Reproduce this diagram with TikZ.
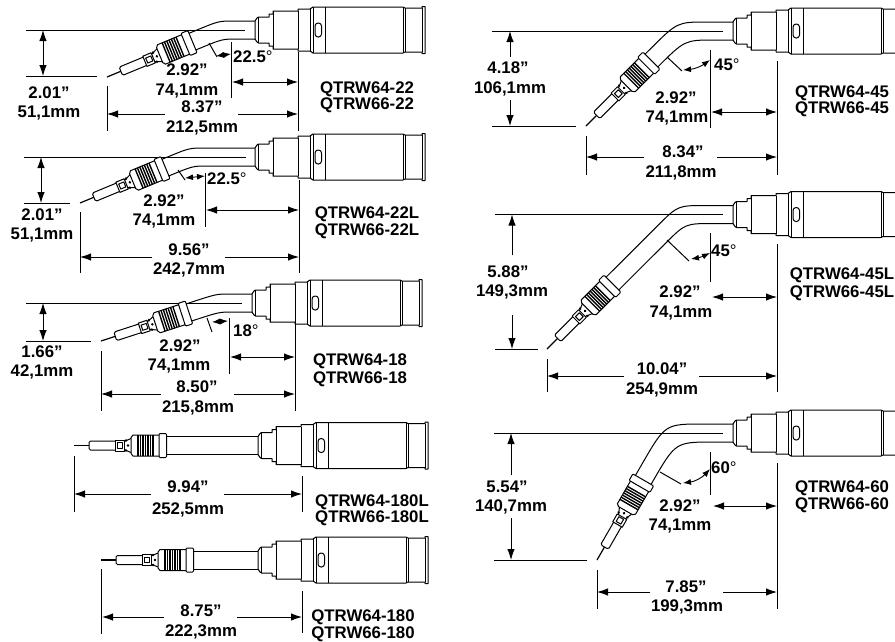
\documentclass[tikz,border=0pt]{standalone}
\usepackage{fontspec}
\setmainfont{Liberation Sans}
\usetikzlibrary{arrows.meta,calc}
\newcommand{\degsign}{{\mdseries °}}
\tikzset{
  gunline/.style={line width=1pt,line join=round},
  extline/.style={line width=1pt},
  dimline/.style={line width=0.9pt,-{Latex[length=11pt,width=7.5pt]}},
  angline/.style={line width=0.9pt,{Latex[length=8pt,width=6pt]}-{Latex[length=8pt,width=6pt]}},
  gunbody/.pic={
    \draw[gunline,fill=white] (0,-9) -- (2,-12) -- (3.5,-13) -- (14,-13) -- (14,-16) -- (18,-16) -- (18,-19)
      -- (43,-19) -- (43,-21) -- (55,-21) -- (58,-23) -- (148,-23) -- (150,-22) -- (167,-22) -- (167,-23.5)
      -- (170,-23.5) -- (170,23.5) -- (167,23.5) -- (167,22) -- (150,22) -- (148,23) -- (58,23) -- (55,21)
      -- (43,21) -- (43,19) -- (18,19) -- (18,16) -- (14,16) -- (14,13) -- (3.5,13) -- (2,12) -- (0,9) -- cycle;
    \draw[gunline] (3.5,-13) -- (3.5,13);
    \draw[gunline] (18,-19) -- (18,19);
    \draw[gunline] (43,-19) -- (43,19);
    \draw[gunline] (55,-21) -- (55,21);
    \draw[gunline] (58,-23) -- (58,23);
    \draw[gunline] (70,-23) -- (70,23);
    \draw[gunline] (148,-23) -- (148,23);
    \draw[gunline] (150,-22) -- (150,22);
    \draw[gunline] (167,-22) -- (167,22);
    \draw[gunline,rounded corners=3] (60,-7) rectangle (66.5,7);
  },
  gunnose/.pic={
    \draw[line width=1.2pt] (0,0) -- (15,0);
    \draw[gunline,fill=white,rounded corners=1.5] (41,-4.5) -- (15,-4.5) -- (15,4.5) -- (41,4.5);
    \draw[gunline,fill=white] (41,-5.5) rectangle (50,5.5);
    \draw[gunline] (43,-2.7) rectangle (48.5,2.7);
    \draw[gunline] (50,-4) -- (57,-7);
    \draw[gunline] (50,4) -- (57,7);
    \fill (52,-5) circle (1.4) (54,0) circle (1.4) (52,5) circle (1.4);
    \draw[gunline,fill=white] (57,-8) -- (59,-10.5) -- (86,-10.5) -- (86,10.5) -- (59,10.5) -- (57,8) -- cycle;
    \foreach \x in {64,66.5,...,80} {
      \draw[line width=1.4pt] (\x,-10.5) -- (\x,10.5);
    }
    \draw[gunline,fill=white,rounded corners=1] (85,-12) rectangle (92.5,12);
  }
}
% tip, angle, neck end of the body, bend on the nose side, bend on the body side
\newcommand{\bentgun}[5]{
  \pic[rotate=#2] at (#1) {gunnose};
  \pic at (#3) {gunbody};
  \begin{scope}[shift={(#1)},rotate=#2]
    \coordinate (nu) at (92.5,-9);
    \coordinate (nl) at (92.5,9);
    \coordinate (nuf) at (150,-9);
    \coordinate (nlf) at (150,9);
  \end{scope}
  \begin{scope}[shift={(#3)}]
    \coordinate (bu) at (0,-9);
    \coordinate (bl) at (0,9);
    \coordinate (buf) at (-10,-9);
    \coordinate (blf) at (-10,9);
  \end{scope}
  \coordinate (vu) at (intersection of nu--nuf and bu--buf);
  \coordinate (vl) at (intersection of nl--nlf and bl--blf);
  \draw[gunline] (nu) -- ($(vu)!#4pt!(nu)$) .. controls (vu) .. ($(vu)!#5pt!(bu)$) -- (bu);
  \draw[gunline] (nl) -- ($(vl)!#4pt!(nl)$) .. controls (vl) .. ($(vl)!#5pt!(bl)$) -- (bl);
}
\newcommand{\straightgun}[2]{
  \pic at (#1) {gunnose};
  \pic at (#2) {gunbody};
  \draw[gunline] ($(#1)+(92.5,-9)$) -- ($(#2)+(0,-9)$);
  \draw[gunline] ($(#1)+(92.5,9)$) -- ($(#2)+(0,9)$);
}
\begin{document}
\begin{tikzpicture}[x=1pt,y=-1pt]
  \path[use as bounding box,clip] (0,0) rectangle (895,641);
  % left column, 22
  \draw[extline] (26,30) -- (245,30);
  \draw[extline] (26,76) -- (97,76);
  \bentgun{107,77}{22.5}{255,30}{26}{15}
  \draw[dimline] (43,53) -- (43,30);
  \draw[dimline] (43,53) -- (43,76);
  \draw[extline] (107,86) -- (107,131);
  \draw[extline] (298,52) -- (298,131);
  \draw[extline] (231,42) -- (231,98);
  \draw[dimline] (265,82) -- (232,82);
  \draw[dimline] (265,82) -- (298,82);
  \draw[dimline] (165,114) -- (107,114);
  \draw[dimline] (238,114) -- (298,114);
  \draw[extline] (209,43) -- (217,57);
  \draw[angline] (216,56) -- (231,54);
  % left column, 22L
  \draw[extline] (24,157) -- (246,157);
  \draw[extline] (24,203) -- (70,203);
  \bentgun{80,203}{22.5}{255,157}{26}{15}
  \draw[dimline] (41,180) -- (41,157);
  \draw[dimline] (41,180) -- (41,203);
  \draw[extline] (80,212) -- (80,273);
  \draw[extline] (299,180) -- (299,273);
  \draw[extline] (205,173) -- (205,227);
  \draw[dimline] (250,210) -- (206,210);
  \draw[dimline] (250,210) -- (299,210);
  \draw[dimline] (152,257) -- (80,257);
  \draw[dimline] (225,257) -- (299,257);
  \draw[extline] (178,170) -- (185,180);
  \draw[angline] (185,178) -- (205,176);
  % left column, 18
  \draw[extline] (26,303) -- (242,303);
  \draw[extline] (26,341) -- (91,341);
  \bentgun{101,341}{18}{252,303}{26}{14}
  \draw[dimline] (43,322) -- (43,303);
  \draw[dimline] (43,322) -- (43,341);
  \draw[extline] (101,351) -- (101,411);
  \draw[extline] (295,320) -- (295,411);
  \draw[extline] (229,318) -- (229,374);
  \draw[dimline] (262,357) -- (230,357);
  \draw[dimline] (262,357) -- (295,357);
  \draw[dimline] (161,394) -- (101,394);
  \draw[dimline] (234,394) -- (295,394);
  \draw[extline] (207,318) -- (212,332);
  \draw[angline] (212,322) -- (228,321);
  % left column, 180L and 180
  \straightgun{74,445.5}{258,445.5}
  \draw[extline] (74,456) -- (74,512);
  \draw[extline] (302,476) -- (302,512);
  \draw[dimline] (151,494) -- (74,494);
  \draw[dimline] (224,494) -- (302,494);
  \straightgun{101,560}{258,560}
  \draw[extline] (101.5,569) -- (101.5,634);
  \draw[extline] (302,591) -- (302,633);
  \draw[dimline] (164,617) -- (102,617);
  \draw[dimline] (237,617) -- (302,617);
  % right column, 45
  \draw[extline] (492,31) -- (723,31);
  \draw[extline] (492,126) -- (576,126);
  \bentgun{586,126}{45}{733,31}{38}{30}
  \draw[dimline] (510,57) -- (510,31);
  \draw[dimline] (510,100) -- (510,126);
  \draw[extline] (586,136) -- (586,175);
  \draw[extline] (777,61) -- (777,175);
  \draw[extline] (710,50) -- (710,128);
  \draw[dimline] (745,112) -- (711,112);
  \draw[dimline] (745,112) -- (777,112);
  \draw[dimline] (644,157) -- (586,157);
  \draw[dimline] (717,157) -- (777,157);
  \draw[extline] (667,57) -- (682,71);
  \draw[angline] (683,70) to[bend right=15] (710,60);
  % right column, 45L
  \draw[extline] (495,214.5) -- (723,214.5);
  \draw[extline] (495,349) -- (538,349);
  \bentgun{547,349}{45}{733,214.5}{28}{28}
  \draw[dimline] (512,255) -- (512,214.5);
  \draw[dimline] (512,315) -- (512,349);
  \draw[extline] (547,359) -- (547,392);
  \draw[extline] (777,244) -- (777,392);
  \draw[extline] (710,233) -- (710,282);
  \draw[dimline] (745,297) -- (712,297);
  \draw[dimline] (745,297) -- (777,297);
  \draw[dimline] (624,376) -- (547,376);
  \draw[dimline] (699,376) -- (777,376);
  \draw[extline] (667,240) -- (689,261);
  \draw[angline] (691,259) to[bend right=8] (710,253);
  % right column, 60
  \draw[extline] (494,433) -- (723,433);
  \draw[extline] (494,560) -- (587,560);
  \bentgun{597,560}{60}{733,433}{46}{38}
  \draw[dimline] (511,475) -- (511,433);
  \draw[dimline] (511,518) -- (511,560);
  \draw[extline] (597,570) -- (597,609);
  \draw[extline] (777,463) -- (777,609);
  \draw[extline] (710,452) -- (710,495);
  \draw[dimline] (745,506) -- (713,506);
  \draw[dimline] (745,506) -- (777,506);
  \draw[dimline] (650,592) -- (597,592);
  \draw[dimline] (723,592) -- (777,592);
  \draw[extline] (660,472) -- (681,484);
  \draw[angline] (683,483) to[bend right=20] (710,469);
  \begin{scope}[every node/.style={inner sep=0pt,font=\bfseries\fontsize{16.8}{18}\selectfont}]
    \node (h22a) at (49,93) {2.01”};
    \node (h22b) at (49,113) {51,1mm};
    \node (s22a) at (187,70) {2.92”};
    \node (s22b) at (187,91) {74,1mm};
    \node (l22a) at (202,107) {8.37”};
    \node (l22b) at (202,128) {212,5mm};
    \node[anchor=west] (a22) at (233,57) {22.5\degsign};
    \node (n22a) at (367,89) {QTRW64-22};
    \node (n22b) at (367,105) {QTRW66-22};
    \node (h22La) at (42,215) {2.01”};
    \node (h22Lb) at (42,235) {51,1mm};
    \node (s22La) at (164,201) {2.92”};
    \node (s22Lb) at (164,221) {74,1mm};
    \node (l22La) at (189,250) {9.56”};
    \node (l22Lb) at (189,270) {242,7mm};
    \node[anchor=west] (a22L) at (207,179) {22.5\degsign};
    \node (n22La) at (367,214) {QTRW64-22L};
    \node (n22Lb) at (367,231) {QTRW66-22L};
    \node (h18a) at (42,352) {1.66”};
    \node (h18b) at (42,372) {42,1mm};
    \node (s18a) at (180,346) {2.92”};
    \node (s18b) at (179,366) {74,1mm};
    \node (l18a) at (197,387) {8.50”};
    \node (l18b) at (198,408) {215,8mm};
    \node[anchor=west] (a18) at (233,331) {18\degsign};
    \node (n18a) at (360,361) {QTRW64-18};
    \node (n18b) at (360,379) {QTRW66-18};
    \node (l180La) at (188,487) {9.94”};
    \node (l180Lb) at (188,510) {252,5mm};
    \node (n180La) at (372,502) {QTRW64-180L};
    \node (n180Lb) at (372,518) {QTRW66-180L};
    \node (l180a) at (201,611) {8.75”};
    \node (l180b) at (201,632) {222,3mm};
    \node (n180a) at (363,617) {QTRW64-180};
    \node (n180b) at (363,634) {QTRW66-180};
    \node (h45a) at (508,68) {4.18”};
    \node (h45b) at (510,89) {106,1mm};
    \node (s45a) at (676,98) {2.92”};
    \node (s45b) at (677,118) {74,1mm};
    \node (l45a) at (683,152) {8.34”};
    \node (l45b) at (681,173) {211,8mm};
    \node[anchor=west] (a45) at (714,65) {45\degsign};
    \node (n45a) at (842,93) {QTRW64-45};
    \node (n45b) at (842,109) {QTRW66-45};
    \node (h45La) at (508,272) {5.88”};
    \node (h45Lb) at (512,292) {149,3mm};
    \node (s45La) at (680,292) {2.92”};
    \node (s45Lb) at (681,313) {74,1mm};
    \node (l45La) at (662,369) {10.04”};
    \node (l45Lb) at (662,390) {254,9mm};
    \node[anchor=west] (a45L) at (711,251) {45\degsign};
    \node (n45La) at (842,275) {QTRW64-45L};
    \node (n45Lb) at (842,293) {QTRW66-45L};
    \node (h60a) at (507,487) {5.54”};
    \node (h60b) at (511,507) {140,7mm};
    \node (s60a) at (680,506) {2.92”};
    \node (s60b) at (680,526) {74,1mm};
    \node (l60a) at (686,587) {7.85”};
    \node (l60b) at (687,607) {199,3mm};
    \node[anchor=west] (a60) at (711,468) {60\degsign};
    \node (n60a) at (842,488) {QTRW64-60};
    \node (n60b) at (842,505) {QTRW66-60};
  \end{scope}
\end{tikzpicture}
\end{document}
